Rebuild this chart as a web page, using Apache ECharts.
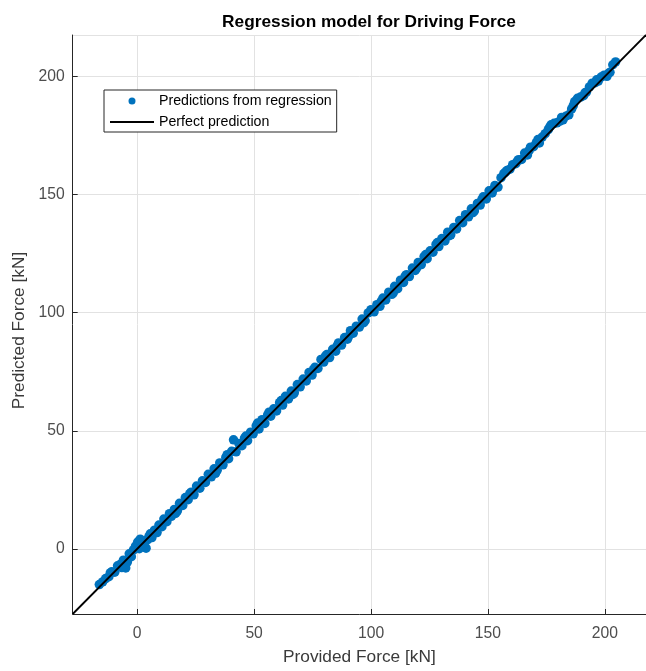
<!DOCTYPE html>
<html>
<head>
<meta charset="utf-8">
<script src="https://cdn.jsdelivr.net/npm/echarts@6/dist/echarts.min.js"></script>
<style>
  html, body { margin: 0; padding: 0; background: #ffffff; }
  #chart { width: 646px; height: 671px; }
</style>
</head>
<body>
<div id="chart"></div>
<script>
// Provided (measured) driving force and the regression model's prediction, in kN
const providedForce = [
  -16.2, -14.8, -13.5, -12.1, -10.9, -9.6, -8.4, -7.1, -5.9, -4.9,
  -4.2, -3.4, -2.5, -1.6, -0.7, 0.2, 0.9, 1.8, 2.6, 3.8,
  4.5, 5.6, 6.3, 7.4, 8.5, 9.3, 10.6, 11.4, 12.7, 13.8,
  14.6, 15.9, 17.2, 18.1, 19.5, 20.6, 21.8, 23.1, 24.3, 25.4,
  26.8, 27.9, 29.2, 30.4, 31.7, 32.9, 34.2, 35.3, 36.7, 37.9,
  39.1, 40.4, 41.2, 42.3, 43.5, 44.8, 45.9, 47.2, 48.5, 49.6,
  50.9, 52.1, 53.4, 54.6, 55.8, 57.1, 58.4, 59.6, 60.9, 62.2,
  63.4, 64.7, 65.9, 67.2, 68.5, 69.7, 71.0, 72.3, 73.5, 74.8,
  76.0, 77.3, 78.6, 79.8, 81.1, 82.3, 83.6, 84.9, 86.1, 87.4,
  88.7, 89.9, 91.2, 92.4, 93.7, 95.0, 96.2, 97.5, 98.8, 100.0,
  101.3, 102.5, 103.8, 105.1, 106.3, 107.6, 108.9, 110.1, 111.4, 112.6,
  113.9, 115.2, 116.4, 117.7, 118.9, 120.2, 121.5, 122.7, 124.0, 125.3,
  126.5, 127.8, 129.0, 130.3, 131.6, 132.8, 134.1, 135.4, 136.6, 137.9,
  139.2, 140.4, 141.7, 142.9, 144.2, 145.5, 146.7, 148.0, 149.3, 150.5,
  151.8, 153.0, 154.3, 155.6, 156.8, 158.1, 159.4, 160.6, 161.9, 163.1,
  164.4, 165.7, 166.9, 168.2, 169.5, 170.7, 172.0, 173.2, 174.5, 175.8,
  177.0, 178.3, 179.5, 180.8, 182.1, 183.3, 184.6, 185.8, 187.1, 188.3,
  189.6, 190.9, 192.1, 193.4, 194.6, 195.9, 197.2, 198.4, 199.7, 200.9,
  202.2, 203.4, 204.6,
  -11.5, -6.6, 1.3, 3.1, 5.0, 16.4, 22.5, 33.5, 38.5, 46.5,
  51.5, 56.4, 61.6, 66.6, 75.4, 80.5, 85.5, 90.5, 96.9, 104.4,
  109.5, 114.6, 119.6, 123.4, 128.4, 133.5, 138.5, 143.6, 147.4, 152.4,
  157.5, 162.5, 167.6, 171.4, 176.4, 181.5, 186.5, 191.5, 196.5, 201.6
];
const predictedForce = [
  -15.1, -14.0, -12.6, -11.8, -9.7, -9.9, -7.2, -6.5, -4.8, -8.1,
  -5.6, -2.1, -3.3, -0.4, 1.2, 2.9, 0.1, 3.4, 1.7, 0.3,
  3.9, 6.4, 4.8, 7.9, 6.9, 10.1, 9.4, 12.6, 11.5, 14.9,
  13.8, 16.7, 16.1, 19.3, 18.4, 21.7, 20.8, 24.0, 22.9, 26.6,
  25.7, 28.8, 28.1, 31.6, 30.5, 33.9, 33.3, 36.4, 35.6, 38.8,
  38.2, 41.3, 46.2, 41.1, 44.6, 43.7, 46.9, 45.8, 49.4, 48.7,
  52.1, 50.8, 54.7, 53.1, 56.8, 56.2, 59.3, 58.4, 61.9, 60.9,
  64.6, 63.5, 66.8, 66.1, 69.6, 68.6, 71.9, 71.1, 74.7, 73.6,
  76.9, 76.4, 80.2, 79.1, 82.3, 81.0, 84.5, 83.7, 87.2, 86.3,
  89.5, 88.8, 92.4, 91.3, 94.3, 93.9, 97.3, 96.6, 99.9, 101.3,
  100.4, 103.4, 102.7, 106.2, 105.4, 108.7, 107.8, 111.2, 110.2, 113.8,
  112.8, 116.1, 115.3, 118.9, 117.9, 121.3, 120.4, 123.8, 122.9, 126.2,
  125.6, 128.9, 128.0, 131.4, 130.4, 134.1, 133.0, 136.1, 135.5, 139.0,
  138.1, 141.5, 140.6, 144.0, 143.1, 146.3, 145.6, 149.1, 148.2, 151.6,
  150.7, 153.9, 153.2, 157.2, 158.9, 160.2, 160.8, 162.7, 163.1, 164.8,
  164.9, 167.6, 166.8, 170.1, 170.3, 172.0, 171.9, 174.4, 175.8, 177.5,
  179.6, 180.2, 180.4, 181.1, 181.7, 183.2, 183.8, 186.3, 189.4, 190.8,
  191.3, 191.9, 193.4, 195.6, 197.2, 197.4, 198.1, 199.8, 200.6, 200.1,
  201.8, 205.0, 206.2,
  -10.2, -7.9, 4.1, 2.6, 5.2, 15.0, 23.4, 32.0, 39.9, 47.8,
  53.3, 57.9, 62.8, 65.4, 75.9, 81.6, 86.0, 90.1, 95.8, 104.9,
  108.4, 115.5, 119.0, 124.6, 129.7, 132.6, 138.8, 142.4, 147.9, 152.3,
  159.5, 164.1, 168.6, 173.3, 178.6, 182.7, 187.7, 193.1, 198.6, 201.4
];
// Ends of the y = x reference line and the shared axis limits (kN)
const perfectLine = [-27.58, 217.6];
const axisRange = [-27.58, 217.6];

const fontFamily = '"Liberation Sans", Arial, Helvetica, sans-serif';
const inkColor = '#262626';
const labelColor = '#4d4d4d';

const chart = echarts.init(document.getElementById('chart'), null, { renderer: 'canvas' });

const pointData = providedForce.map((x, i) => [x, predictedForce[i]]);
const lineData = perfectLine.map(v => [v, v]);

function axisCommon(name) {
  return {
    type: 'value',
    min: axisRange[0],
    max: axisRange[1],
    splitNumber: 5,
    name: name,
    nameLocation: 'middle',
    nameTextStyle: { color: '#3a3a3a', fontSize: 17.3, fontFamily: fontFamily },
    axisLine: { show: true, onZero: false, lineStyle: { color: inkColor, width: 1 } },
    axisTick: { show: true, inside: true, length: 5, lineStyle: { color: inkColor, width: 1 } },
    splitLine: { show: true, lineStyle: { color: '#e2e2e2', width: 1 } },
    axisLabel: {
      color: labelColor,
      fontSize: 15.7,
      fontFamily: fontFamily,
      showMinLabel: false,
      showMaxLabel: false,
      formatter: v => (Math.abs(v % 50) < 1e-9 ? String(v) : '')
    }
  };
}

const xAxis = axisCommon('Provided Force [kN]');
xAxis.nameGap = 35;
xAxis.axisLabel.margin = 12;

const yAxis = axisCommon('Predicted Force [kN]');
yAxis.nameGap = 37;
yAxis.axisLabel.margin = 8;
yAxis.nameTextStyle.padding = [0, 12, 0, 0];

chart.setOption({
  animation: false,
  backgroundColor: '#ffffff',
  textStyle: { fontFamily: fontFamily },
  title: {
    text: 'Regression model for Driving Force',
    left: 364,
    top: 9,
    textAlign: 'center',
    textStyle: { color: '#000000', fontSize: 17.3, fontWeight: 'bold', fontFamily: fontFamily }
  },
  grid: { left: 72.7, top: 35, width: 583.2, height: 584, containLabel: false },
  xAxis: xAxis,
  yAxis: yAxis,
  legend: {
    orient: 'vertical',
    left: 104,
    top: 90,
    itemWidth: 44,
    itemHeight: 7,
    itemGap: 7,
    padding: [4, 5, 3, 6],
    borderColor: inkColor,
    borderWidth: 1,
    borderRadius: 0,
    backgroundColor: '#ffffff',
    textStyle: { color: '#000000', fontSize: 14.2, lineHeight: 14, fontFamily: fontFamily },
    data: [
      { name: 'Predictions from regression', icon: 'circle' },
      { name: 'Perfect prediction', icon: 'path://M0,0 L44,0 L44,1.8 L0,1.8 Z' }
    ]
  },
  series: [
    {
      name: 'Predictions from regression',
      type: 'scatter',
      data: pointData,
      symbol: 'circle',
      symbolSize: 9.5,
      itemStyle: { color: '#0072BD', opacity: 1 },
      z: 2
    },
    {
      name: 'Perfect prediction',
      type: 'line',
      data: lineData,
      symbol: 'none',
      clip: true,
      lineStyle: { color: '#000000', width: 1.8 },
      itemStyle: { color: '#000000' },
      z: 3
    }
  ]
});
</script>
</body>
</html>
